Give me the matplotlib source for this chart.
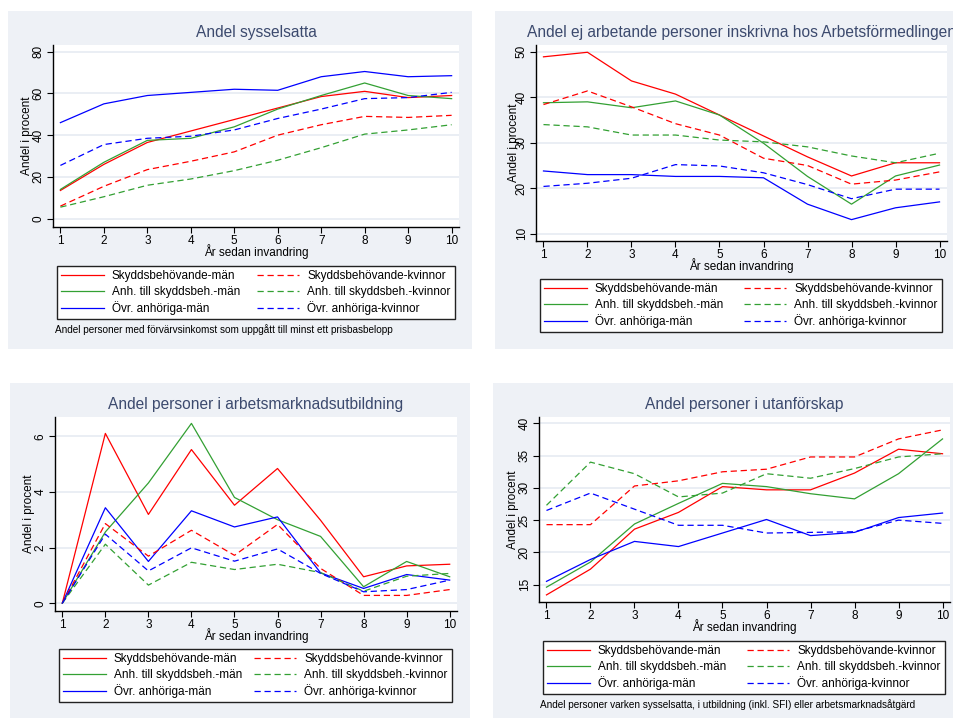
import matplotlib.pyplot as plt
from matplotlib.patches import Rectangle

plt.rcParams['font.family'] = ['Liberation Sans', 'DejaVu Sans']

years = [1, 2, 3, 4, 5, 6, 7, 8, 9, 10]
labels_man = ['Skyddsbehövande-män', 'Anh. till skyddsbeh.-män', 'Övr. anhöriga-män']
labels_kv = ['Skyddsbehövande-kvinnor', 'Anh. till skyddsbeh.-kvinnor', 'Övr. anhöriga-kvinnor']

# Andel sysselsatta
syss_skydd_m = [13.5, 26.0, 36.5, 42.0, 47.5, 53.0, 58.5, 61.0, 58.0, 59.0]
syss_anh_m = [14.0, 27.0, 37.5, 38.5, 44.0, 52.5, 59.0, 65.0, 59.0, 57.5]
syss_ovr_m = [46.0, 55.0, 59.0, 60.5, 62.0, 61.5, 68.0, 70.5, 68.0, 68.5]
syss_skydd_k = [6.0, 15.5, 23.5, 27.5, 32.0, 40.0, 45.0, 49.0, 48.5, 49.5]
syss_anh_k = [5.5, 10.5, 16.0, 19.0, 23.0, 28.0, 34.0, 40.5, 42.5, 45.0]
syss_ovr_k = [25.5, 35.5, 38.5, 39.5, 42.5, 48.0, 52.5, 57.5, 58.0, 60.5]

# Andel ej arbetande inskrivna hos Arbetsförmedlingen
af_skydd_m = [48.9, 49.9, 43.6, 40.7, 36.1, 31.5, 26.9, 22.7, 25.6, 25.6]
af_anh_m = [38.8, 39.0, 37.7, 39.2, 36.1, 29.9, 22.6, 16.5, 22.7, 25.1]
af_ovr_m = [23.8, 23.0, 23.0, 22.6, 22.6, 22.3, 16.5, 13.1, 15.7, 17.0]
af_skydd_k = [38.4, 41.4, 37.9, 34.2, 31.7, 26.6, 25.0, 20.9, 21.8, 23.6]
af_anh_k = [34.0, 33.5, 31.7, 31.7, 30.6, 30.2, 29.1, 27.1, 25.6, 27.7]
af_ovr_k = [20.4, 21.1, 22.2, 25.2, 24.9, 23.4, 20.8, 17.7, 19.8, 19.8]

# Andel i arbetsmarknadsutbildning
amu_skydd_m = [0.0, 6.1, 3.19, 5.52, 3.52, 4.84, 2.98, 0.95, 1.34, 1.4]
amu_anh_m = [0.0, 2.56, 4.32, 6.46, 3.8, 3.0, 2.4, 0.59, 1.5, 0.95]
amu_ovr_m = [0.0, 3.43, 1.5, 3.32, 2.74, 3.1, 1.09, 0.53, 1.03, 0.83]
amu_skydd_k = [0.0, 2.86, 1.69, 2.62, 1.72, 2.83, 1.25, 0.28, 0.28, 0.49]
amu_anh_k = [0.0, 2.12, 0.65, 1.47, 1.21, 1.4, 1.1, 0.43, 0.97, 1.07]
amu_ovr_k = [0.0, 2.48, 1.16, 1.99, 1.51, 1.95, 1.07, 0.41, 0.49, 0.83]

# Andel i utanförskap
ut_skydd_m = [13.4, 17.4, 23.6, 26.2, 30.2, 29.7, 29.7, 32.3, 36.0, 35.3]
ut_anh_m = [14.6, 18.5, 24.4, 27.6, 30.7, 30.2, 29.1, 28.3, 32.2, 37.6]
ut_ovr_m = [15.5, 18.9, 21.7, 20.9, 23.0, 25.1, 22.6, 23.1, 25.4, 26.1]
ut_skydd_k = [24.3, 24.3, 30.3, 31.1, 32.5, 32.9, 34.8, 34.8, 37.6, 39.0]
ut_anh_k = [27.3, 34.0, 32.2, 28.6, 29.2, 32.2, 31.5, 33.0, 34.8, 35.3]
ut_ovr_k = [26.5, 29.2, 26.7, 24.2, 24.2, 23.0, 23.1, 23.2, 25.0, 24.5]

W, H = 954, 718
BG = '#EEF1F6'
TITLE_COL = '#3C4A6E'
colors = ['#FF0000', '#33A033', '#0000FF']


def fbox(x0, y0, x1, y1):
    # pixel box (top-left origin) -> figure coords
    return [x0 / W, 1 - y1 / H, (x1 - x0) / W, (y1 - y0) / H]


panels = [
    dict(title='Andel sysselsatta',
         men=[syss_skydd_m, syss_anh_m, syss_ovr_m],
         women=[syss_skydd_k, syss_anh_k, syss_ovr_k],
         yticks=[0, 20, 40, 60, 80], ylim=(-4, 83.2),
         bg=(8, 11, 472, 349), ax=(53, 45, 459, 227), ylab_off=26,
         leg=(57, 266, 455, 319),
         note='Andel personer med förvärvsinkomst som uppgått till minst ett prisbasbelopp',
         note_xy=(55, 330)),
    dict(title='Andel ej arbetande personer inskrivna hos Arbetsförmedlingen',
         men=[af_skydd_m, af_anh_m, af_ovr_m],
         women=[af_skydd_k, af_anh_k, af_ovr_k],
         yticks=[10, 20, 30, 40, 50], ylim=(8.4, 51.5),
         bg=(495, 11, 960, 349), ax=(536, 45, 947, 241), ylab_off=22,
         leg=(540, 279, 942, 332), note=None),
    dict(title='Andel personer i arbetsmarknadsutbildning',
         men=[amu_skydd_m, amu_anh_m, amu_ovr_m],
         women=[amu_skydd_k, amu_anh_k, amu_ovr_k],
         yticks=[0, 2, 4, 6], ylim=(-0.28, 6.69),
         bg=(10, 383, 470, 720), ax=(55, 417, 457, 611), ylab_off=26,
         leg=(59, 649, 452, 701), note=None),
    dict(title='Andel personer i utanförskap',
         men=[ut_skydd_m, ut_anh_m, ut_ovr_m],
         women=[ut_skydd_k, ut_anh_k, ut_ovr_k],
         yticks=[15, 20, 25, 30, 35, 40], ylim=(12.3, 41.0),
         bg=(493, 383, 960, 720), ax=(539, 417, 950, 602), ylab_off=26,
         leg=(543, 641, 945, 695),
         note='Andel personer varken sysselsatta, i utbildning (inkl. SFI) eller arbetsmarknadsåtgärd',
         note_xy=(540, 705)),
]

fig = plt.figure(figsize=(W / 100, H / 100), dpi=100)
fig.patch.set_facecolor('white')

for p in panels:
    bx0, by0, bx1, by1 = p['bg']
    fig.patches.append(Rectangle((bx0 / W, 1 - by1 / H), (bx1 - bx0) / W, (by1 - by0) / H,
                                 transform=fig.transFigure, facecolor=BG, edgecolor='none', zorder=-5))

    ax0, ay0, ax1, ay1 = p['ax']
    ax = fig.add_axes(fbox(ax0, ay0, ax1, ay1))
    ax.set_facecolor('white')

    handles = []
    for vals, c in zip(p['men'], colors):
        h, = ax.plot(years, vals, color=c, lw=0.9)
        handles.append(h)
    for vals, c in zip(p['women'], colors):
        h, = ax.plot(years, vals, color=c, lw=0.9, dashes=(5, 3))
        handles.append(h)

    ax.set_xlim(0.83, 10.17)
    ax.set_ylim(*p['ylim'])
    ax.set_xticks(years)
    ax.set_yticks(p['yticks'])
    ax.set_yticklabels([str(t) for t in p['yticks']], rotation=90, va='center')
    ax.tick_params(length=4, width=0.8, pad=2, labelsize=8.5, colors='black')
    for t in p['yticks']:
        ax.axhline(t, color='#E6EBF2', lw=1.2, zorder=0)
    for s in ['top', 'right']:
        ax.spines[s].set_visible(False)
    for s in ['left', 'bottom']:
        ax.spines[s].set_linewidth(1.0)

    cx = (ax0 + ax1) / 2
    cy = (ay0 + ay1) / 2
    fig.text(cx / W, 1 - (ay0 - 13) / H, p['title'], ha='center', va='center',
             fontsize=11.2, color=TITLE_COL)
    fig.text(cx / W, 1 - (ay1 + 25) / H, 'År sedan invandring', ha='center', va='center',
             fontsize=8.5)
    fig.text((ax0 - p['ylab_off']) / W, 1 - cy / H, 'Andel i procent', ha='center', va='center',
             rotation=90, fontsize=8.5)

    lx0, ly0, lx1, ly1 = p['leg']
    leg = ax.legend(handles, labels_man + labels_kv, ncol=2, loc='upper left',
                    bbox_to_anchor=(lx0 / W, 1 - ly1 / H, (lx1 - lx0) / W, (ly1 - ly0) / H),
                    bbox_transform=fig.transFigure, mode='expand', fontsize=8.5,
                    frameon=True, fancybox=False, framealpha=1, edgecolor='#222222',
                    handlelength=3.6, handletextpad=0.7, labelspacing=0.3,
                    borderpad=0.35, borderaxespad=0)
    leg.get_frame().set_linewidth(1.0)

    if p['note']:
        nx, ny = p['note_xy']
        fig.text(nx / W, 1 - ny / H, p['note'], ha='left', va='center', fontsize=7.2)

fig.savefig('out.png', dpi=100)
